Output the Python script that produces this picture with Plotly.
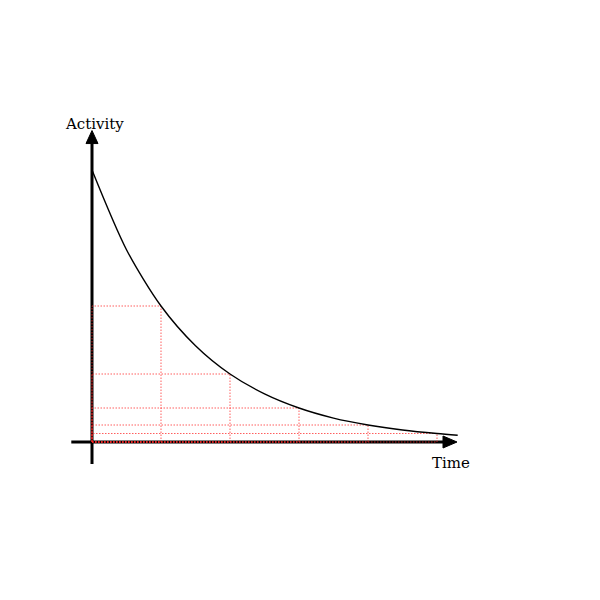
import plotly.graph_objects as go

# ---- data ----
curve_time = [0, 0.5, 1, 1.5, 2, 2.5, 3, 3.5, 4, 4.5, 5, 5.3]
curve_activity = [100, 70.7, 50, 35.4, 25, 17.7, 12.5, 8.8, 6.25, 4.4, 3.1, 2.5]
half_life_times = [1, 2, 3, 4, 5]
half_life_activity = [50, 25, 12.5, 6.25, 3.125]
x_label = "Time"
y_label = "Activity"

# axis extents (data units)
X_MIN, X_MAX = -0.3, 5.29
Y_MIN, Y_MAX = -8.1, 114.5

W, H = 600, 600
PX_X, PX_Y = 69.0, 2.72   # pixels per data unit
ORIG_X, ORIG_Y = 84, 434  # page body adds an 8px offset

xr = [-ORIG_X / PX_X, (W - ORIG_X) / PX_X]
yr = [-(H - ORIG_Y) / PX_Y, ORIG_Y / PX_Y]

fig = go.Figure()

# axes lines
ah_x = 14 / PX_X   # arrow length along x
aw_x = 6 / PX_Y    # arrow half-width (in y units)
ah_y = 13 / PX_Y
aw_y = 6 / PX_X
fig.add_trace(go.Scatter(x=[X_MIN, X_MAX - ah_x], y=[0, 0], mode="lines",
                         line=dict(color="black", width=3), showlegend=False, hoverinfo="skip"))
fig.add_trace(go.Scatter(x=[0, 0], y=[Y_MIN, Y_MAX - ah_y], mode="lines",
                         line=dict(color="black", width=3), showlegend=False, hoverinfo="skip"))
fig.add_trace(go.Scatter(x=[X_MAX - ah_x, X_MAX, X_MAX - ah_x, X_MAX - ah_x],
                         y=[aw_x, 0, -aw_x, aw_x], mode="lines", fill="toself",
                         fillcolor="black", line=dict(color="black", width=1),
                         showlegend=False, hoverinfo="skip"))
fig.add_trace(go.Scatter(x=[-aw_y, 0, aw_y, -aw_y],
                         y=[Y_MAX - ah_y, Y_MAX, Y_MAX - ah_y, Y_MAX - ah_y], mode="lines",
                         fill="toself", fillcolor="black", line=dict(color="black", width=1),
                         showlegend=False, hoverinfo="skip"))

red = "rgba(255,40,40,0.75)"
for t, a in zip(half_life_times, half_life_activity):
    fig.add_trace(go.Scatter(x=[0, t, t, 0, 0], y=[0, 0, a, a, 0], mode="lines",
                             line=dict(color=red, width=1, dash="1.5px,1.5px"),
                             hoverinfo="skip", showlegend=False))

fig.add_trace(go.Scatter(x=curve_time, y=curve_activity, mode="lines",
                         line=dict(color="black", width=1.4, shape="spline", smoothing=0.8),
                         showlegend=False))

font = dict(family="DejaVu Serif", size=15, color="black")
fig.add_annotation(x=0.03, y=116.9, text=y_label, showarrow=False, font=font,
                   xanchor="center", yanchor="middle")
fig.add_annotation(x=5.2, y=-7.8, text=x_label, showarrow=False, font=font,
                   xanchor="center", yanchor="middle")

fig.update_layout(
    width=W, height=H, margin=dict(l=0, r=0, t=0, b=0),
    paper_bgcolor="white", plot_bgcolor="white",
    xaxis=dict(range=xr, visible=False, fixedrange=True),
    yaxis=dict(range=yr, visible=False, fixedrange=True),
    showlegend=False,
)

fig.write_html("out.html")
